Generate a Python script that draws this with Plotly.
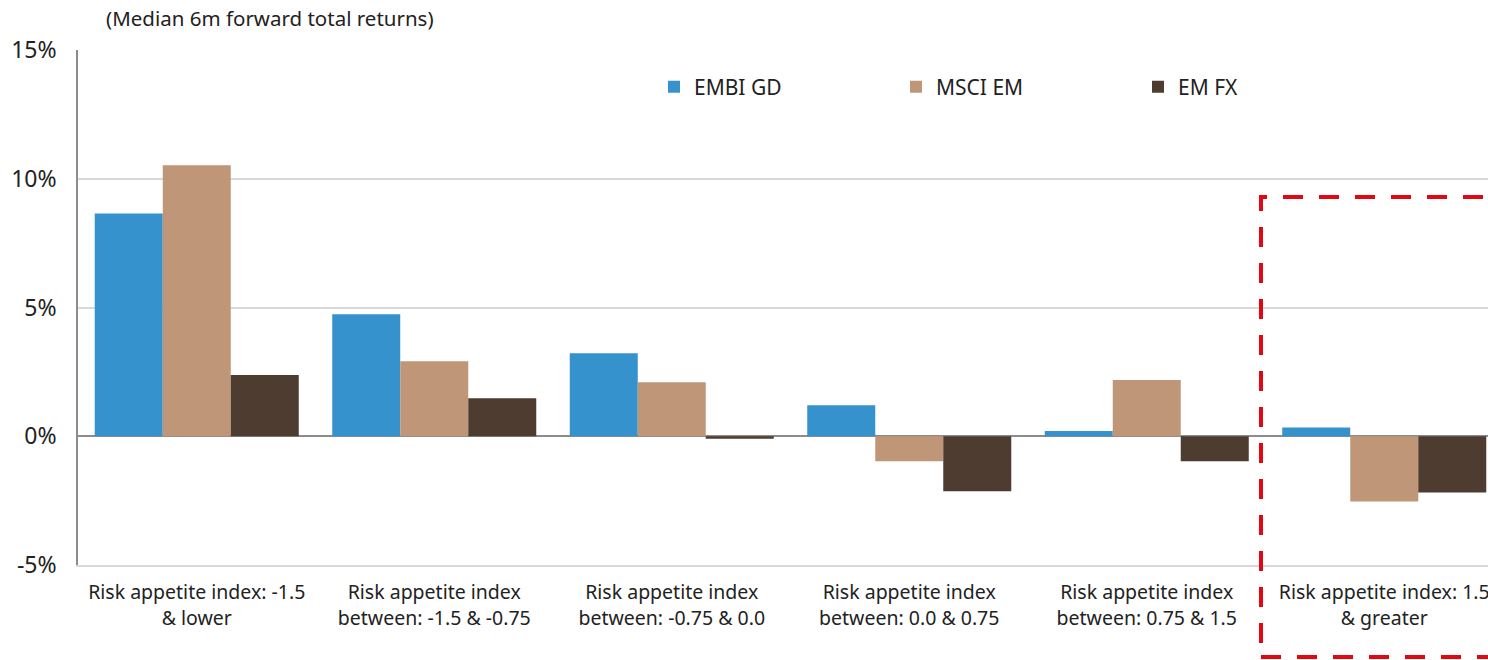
import plotly.graph_objects as go

categories = [
    "Risk appetite index: -1.5<br>& lower",
    "Risk appetite index<br>between: -1.5 & -0.75",
    "Risk appetite index<br>between: -0.75 & 0.0",
    "Risk appetite index<br>between: 0.0 & 0.75",
    "Risk appetite index<br>between: 0.75 & 1.5",
    "Risk appetite index: 1.5<br>& greater",
]
embi_gd = [8.65, 4.74, 3.22, 1.2, 0.2, 0.34]
msci_em = [10.52, 2.91, 2.1, -0.97, 2.18, -2.53]
em_fx = [2.38, 1.48, -0.1, -2.14, -0.97, -2.18]

series = [
    ("EMBI GD", embi_gd, "#3592CD"),
    ("MSCI EM", msci_em, "#BF9677"),
    ("EM FX", em_fx, "#4E3C31"),
]

FONT = "Noto Sans"
TXT = "#222222"
fig = go.Figure()
for name, vals, color in series:
    fig.add_trace(go.Bar(
        x=categories, y=vals, name=name,
        marker=dict(color=color, line=dict(width=0)),
    ))

W, H = 1488, 660
ML, MT, MB = 78, 50, 95
plot_w = W - ML
plot_h = H - MT - MB
cat_px = 237.5
x_hi = -0.5 + plot_w / cat_px


def px_x(px):
    return (px - ML) / plot_w


def px_y(py):
    return (H - MB - py) / plot_h


fig.update_layout(
    width=W, height=H,
    margin=dict(l=ML, r=0, t=MT, b=MB, pad=0, autoexpand=False),
    paper_bgcolor="white", plot_bgcolor="white",
    barmode="group", bargap=0.141, bargroupgap=0,
    font=dict(family=FONT, size=19, color=TXT),
    showlegend=True,
    legend=dict(
        orientation="h", x=px_x(654), y=px_y(87),
        xanchor="left", yanchor="middle",
        entrywidth=197, entrywidthmode="pixels",
        itemwidth=30, bgcolor="rgba(0,0,0,0)",
        font=dict(family=FONT, size=21, color=TXT),
        traceorder="normal",
    ),
    xaxis=dict(
        range=[-0.5, x_hi], showgrid=False,
        showline=True, linecolor="#D9D9D9", linewidth=1.5,
        ticks="", ticklabelstandoff=9, automargin=False,
        tickfont=dict(family=FONT, size=19.5, color=TXT),
    ),
    yaxis=dict(
        range=[-5, 15], tickvals=[-5, 0, 5, 10, 15],
        ticktext=["-5%", "0%", "5%", "10%", "15%"],
        showgrid=True, gridcolor="#D9D9D9", gridwidth=1.5,
        zeroline=True, zerolinecolor="#8C8C8C", zerolinewidth=1.5,
        showline=True, linecolor="#8C8C8C", linewidth=1.5,
        ticks="", ticklabelstandoff=15, automargin=False,
        tickfont=dict(family=FONT, size=23, color=TXT),
    ),
    annotations=[dict(
        text="(Median 6m forward total returns)",
        xref="paper", yref="paper", x=px_x(104), y=1,
        xanchor="left", yanchor="bottom", yshift=16, showarrow=False,
        font=dict(family=FONT, size=20.5, color=TXT),
    )],
    shapes=[dict(
        type="rect", xref="paper", yref="paper",
        x0=px_x(1261), x1=px_x(1520), y0=px_y(657), y1=px_y(197),
        line=dict(color="#E30613", width=4, dash="20px,16px"),
        fillcolor="rgba(0,0,0,0)",
    )],
)

fig.write_html("out.html")
